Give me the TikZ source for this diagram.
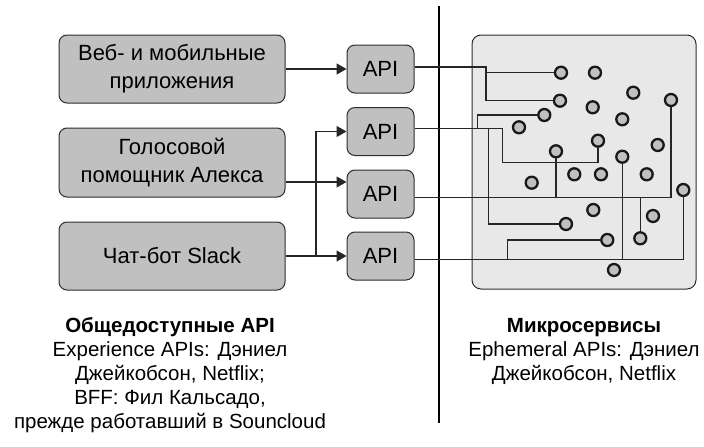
\documentclass[tikz,border=0pt]{standalone}
\usepackage{fontspec}
\setmainfont{Liberation Sans}
\usetikzlibrary{arrows.meta}
\definecolor{boxgray}{RGB}{192,192,192}
\definecolor{panelgray}{RGB}{232,232,232}
\definecolor{edgegray}{RGB}{45,45,45}
\tikzset{
  srcbox/.style={draw=edgegray, line width=1pt, fill=boxgray, rounded corners=8pt,
    minimum width=226pt, minimum height=68pt, align=center, inner sep=0pt,
    font=\fontsize{22}{28}\selectfont},
  apibox/.style={draw=edgegray, line width=1pt, fill=boxgray, rounded corners=8pt,
    minimum width=67pt, minimum height=48pt, inner sep=0pt,
    font=\fontsize{22}{26}\selectfont},
  panel/.style={draw=edgegray, line width=1pt, fill=panelgray, rounded corners=9pt},
  dot/.style={circle, draw=black!90, line width=2.3pt, fill=boxgray, minimum size=12pt, inner sep=0pt},
  wire/.style={draw=black!85, line width=1.3pt},
  arr/.style={wire, -{Triangle[length=10pt,width=11pt]}},
  caption/.style={align=center, inner sep=0pt, font=\fontsize{20.5}{24}\selectfont}
}
\begin{document}
\begin{tikzpicture}[x=1pt,y=-1pt]
\useasboundingbox (0,0) rectangle (704,447);
% divider
\draw[line width=2.4pt] (439,6) coordinate (dtop) -- (439,423) coordinate (dbot);
% source boxes
\node[srcbox] (src1) at (172,69) {Веб- и мобильные\\приложения};
\node[srcbox, minimum height=69pt] (src2) at (172,162.5) {Голосовой\\помощник Алекса};
\node[srcbox] (src3) at (172,256) {Чат-бот Slack};
% API boxes
\node[apibox] (api1) at (380.5,69) {API};
\node[apibox] (api2) at (380.5,131.5) {API};
\node[apibox] (api3) at (380.5,194) {API};
\node[apibox] (api4) at (380.5,256) {API};
% microservices panel
\node[panel, minimum width=224pt, minimum height=254pt, inner sep=0pt] (panel) at (584,162) {};
% circles
\node[dot] (c1) at (561,72.7) {};
\node[dot] (c2) at (595,72.7) {};
\node[dot] (c3) at (633.3,92.7) {};
\node[dot] (c4) at (671,100) {};
\node[dot] (c5) at (560,100.7) {};
\node[dot] (c6) at (592.7,107.3) {};
\node[dot] (c7) at (544.3,115) {};
\node[dot] (c8) at (622.3,119.3) {};
\node[dot] (c9) at (519,127.3) {};
\node[dot] (c10) at (598,140.7) {};
\node[dot] (c11) at (657.7,145) {};
\node[dot] (c12) at (556,151.3) {};
\node[dot] (c13) at (622.3,156.7) {};
\node[dot] (c14) at (574.3,174.3) {};
\node[dot] (c15) at (601,174.3) {};
\node[dot] (c16) at (646.7,174.3) {};
\node[dot] (c17) at (531.7,182.7) {};
\node[dot] (c18) at (683.3,190) {};
\node[dot] (c19) at (593.3,210) {};
\node[dot] (c20) at (653,216) {};
\node[dot] (c21) at (566,224) {};
\node[dot] (c22) at (640.3,238.3) {};
\node[dot] (c23) at (607.3,240) {};
\node[dot] (c24) at (614,270) {};
% left connectors
\coordinate (a3in) at (api3.west |- 0,182);
\coordinate (jv) at (316,256);
\draw[arr] (src1.east) -- (api1.west);
\draw[arr] (src2.east |- a3in) -- (a3in);
\draw[arr] (src3.east) -- (api4.west);
\draw[arr] (jv) |- (api2.west);
% right connectors
\coordinate (o1) at (api1.east |- 0,67);
\coordinate (o2) at (api2.east |- 0,128.3);
\coordinate (o3) at (api3.east |- 0,197.7);
\coordinate (o4) at (api4.east |- 0,259.3);
\coordinate (j1) at (486,67);
\draw[wire] (o1) -- (j1) |- (c5.west);
\draw[wire] (c1.west -| j1) -- (c1.west);
\coordinate (j2a) at (477.3,128.3);
\coordinate (j2b) at (488.3,128.3);
\coordinate (j2c) at (502.7,128.3);
\draw[wire] (o2) -- (j2c) -- (502.7,162.7) -| (c10.south);
\draw[wire] (j2a) |- (c7.west);
\draw[wire] (j2b) |- (c21.west);
\draw[wire] (o3) -| (c4.south);
\draw[wire] (c12.south |- o3) -- (c12.south);
\draw[wire] (c22.north |- o3) -- (c22.north);
\draw[wire] (o4) -| (c18.south);
\coordinate (j4a) at (507.7,259.3);
\draw[wire] (j4a) |- (c23.west);
\draw[wire] (c13.south |- o4) -- (c13.south);
% captions
\node[caption] (capl) at (170,375.5) {\textbf{Общедоступные API}\\Experience APIs: Дэниел\\Джейкобсон, Netflix;\\BFF: Фил Кальсадо,\\прежде работавший в Souncloud};
\node[caption] (capr) at (584,351) {\textbf{Микросервисы}\\Ephemeral APIs: Дэниел\\Джейкобсон, Netflix};
\end{tikzpicture}
\end{document}
